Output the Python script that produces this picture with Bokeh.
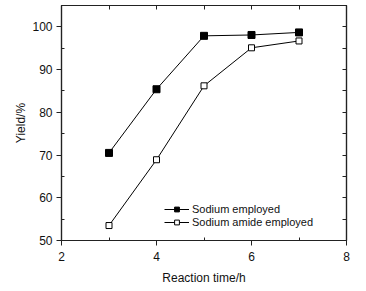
from bokeh.plotting import figure
from bokeh.models import LinearAxis, Range1d, FixedTicker, Legend, LegendItem
from bokeh.embed import file_html
from bokeh.resources import INLINE

time_h = [3, 4, 5, 6, 7]
sodium = [70.5, 85.4, 97.9, 98.1, 98.7]
sodium_amide = [53.5, 68.9, 86.2, 95.1, 96.7]
x_ticks = [2, 4, 6, 8]
x_minor = [3, 5, 7]
y_ticks = [50, 60, 70, 80, 90, 100]
y_minor = [55, 65, 75, 85, 95]

FONT = "Liberation Sans"
AX = "#222222"
TXT = "#111111"

p = figure(width=366, height=291, output_backend="svg", toolbar_location=None,
           x_range=Range1d(2, 8), y_range=Range1d(50, 105),
           min_border_left=61, min_border_right=20, min_border_top=5, min_border_bottom=51)
p.xgrid.visible = False
p.ygrid.visible = False
p.outline_line_color = AX
p.outline_line_width = 1.2
p.background_fill_color = "white"
p.border_fill_color = "white"

def style(ax, ticks, minor):
    ax.ticker = FixedTicker(ticks=ticks, minor_ticks=minor)
    ax.axis_line_color = AX
    ax.axis_line_width = 1.2
    ax.major_tick_line_color = AX
    ax.minor_tick_line_color = AX
    ax.major_label_text_font = FONT
    ax.major_label_text_font_size = "12px"
    ax.major_label_text_color = TXT
    ax.axis_label_text_font = FONT
    ax.axis_label_text_font_size = "12px"
    ax.axis_label_text_font_style = "normal"
    ax.axis_label_text_color = TXT

style(p.xaxis[0], x_ticks, x_minor)
style(p.yaxis[0], y_ticks, y_minor)
for ax in (p.xaxis[0], p.yaxis[0]):
    ax.major_tick_out = 5
    ax.major_tick_in = 0
    ax.minor_tick_out = 0
    ax.minor_tick_in = 3

p.xaxis.axis_label = "Reaction time/h"
p.yaxis.axis_label = "Yield/%"
p.xaxis.major_label_standoff = 6
p.yaxis.major_label_standoff = 4
p.xaxis.axis_label_standoff = 7
p.yaxis.axis_label_standoff = 1

# mirror axes: ticks only (drawn as minor ticks, so no labels)
top = LinearAxis()
style(top, [], x_ticks + x_minor)
right = LinearAxis()
style(right, [], y_ticks + y_minor + [105])
for ax in (top, right):
    ax.minor_tick_out = 0
    ax.minor_tick_in = 4
    ax.major_label_standoff = 0
p.add_layout(top, "above")
p.add_layout(right, "right")

r1l = p.line(time_h, sodium, line_color="black", line_width=1)
r1s = p.scatter(time_h, sodium, marker="square", size=7, fill_color="black", line_color="black")
r2l = p.line(time_h, sodium_amide, line_color="black", line_width=1)
r2s = p.scatter(time_h, sodium_amide, marker="square", size=6, fill_color="white", line_color="black", line_width=1)

legend = Legend(items=[LegendItem(label="Sodium employed", renderers=[r1l, r1s]),
                       LegendItem(label="Sodium amide employed", renderers=[r2l, r2s])],
                location=(103, 12))
legend.border_line_color = None
legend.background_fill_alpha = 0
legend.label_text_font = FONT
legend.label_text_font_size = "11px"
legend.label_text_color = TXT
legend.glyph_width = 25
legend.glyph_height = 12
legend.label_standoff = 3
legend.spacing = 1
legend.padding = 2
legend.margin = 0
legend.label_height = 12
p.add_layout(legend, "center")

open("out.html", "w").write(file_html(p, INLINE))
